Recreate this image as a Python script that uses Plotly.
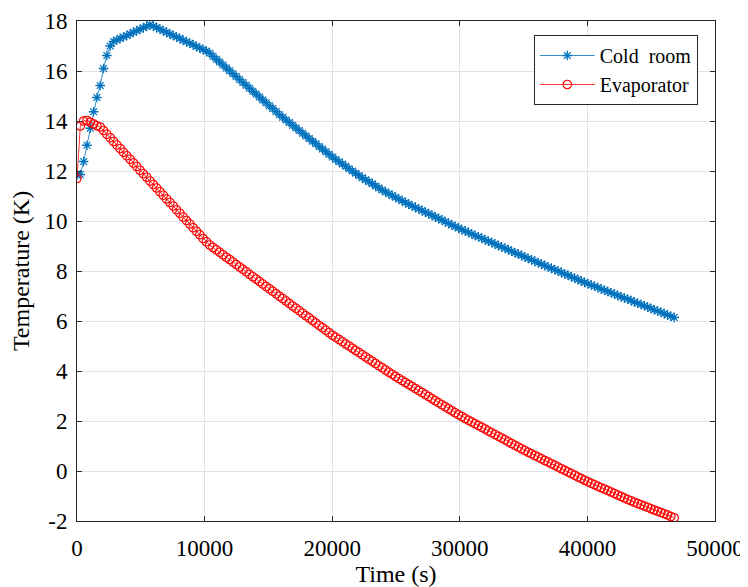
import plotly.graph_objects as go

time_s = [
    0, 260, 520, 780, 1040, 1300, 1560, 1820, 2080, 2340,
    2600, 2860, 3120, 3380, 3640, 3900, 4160, 4420, 4680, 4940,
    5200, 5460, 5720, 5980, 6240, 6500, 6760, 7020, 7280, 7540,
    7800, 8060, 8320, 8580, 8840, 9100, 9360, 9620, 9880, 10140,
    10400, 10660, 10920, 11180, 11440, 11700, 11960, 12220, 12480, 12740,
    13000, 13260, 13520, 13780, 14040, 14300, 14560, 14820, 15080, 15340,
    15600, 15860, 16120, 16380, 16640, 16900, 17160, 17420, 17680, 17940,
    18200, 18460, 18720, 18980, 19240, 19500, 19760, 20020, 20280, 20540,
    20800, 21060, 21320, 21580, 21840, 22100, 22360, 22620, 22880, 23140,
    23400, 23660, 23920, 24180, 24440, 24700, 24960, 25220, 25480, 25740,
    26000, 26260, 26520, 26780, 27040, 27300, 27560, 27820, 28080, 28340,
    28600, 28860, 29120, 29380, 29640, 29900, 30160, 30420, 30680, 30940,
    31200, 31460, 31720, 31980, 32240, 32500, 32760, 33020, 33280, 33540,
    33800, 34060, 34320, 34580, 34840, 35100, 35360, 35620, 35880, 36140,
    36400, 36660, 36920, 37180, 37440, 37700, 37960, 38220, 38480, 38740,
    39000, 39260, 39520, 39780, 40040, 40300, 40560, 40820, 41080, 41340,
    41600, 41860, 42120, 42380, 42640, 42900, 43160, 43420, 43680, 43940,
    44200, 44460, 44720, 44980, 45240, 45500, 45760, 46020, 46280, 46540,
    46800,
]

cold_room = [
    11.85, 11.86, 12.38, 13.03, 13.71, 14.37, 14.94, 15.42, 16.10, 16.62,
    17.00, 17.18, 17.24, 17.30, 17.36, 17.42, 17.48, 17.55, 17.61, 17.67,
    17.73, 17.79, 17.85, 17.80, 17.74, 17.67, 17.61, 17.55, 17.48, 17.42,
    17.36, 17.30, 17.23, 17.17, 17.11, 17.05, 16.98, 16.92, 16.86, 16.80,
    16.71, 16.59, 16.47, 16.36, 16.24, 16.12, 16.01, 15.89, 15.78, 15.66,
    15.54, 15.43, 15.31, 15.19, 15.08, 14.96, 14.84, 14.73, 14.61, 14.50,
    14.38, 14.26, 14.15, 14.04, 13.94, 13.83, 13.72, 13.62, 13.51, 13.40,
    13.30, 13.19, 13.09, 12.98, 12.88, 12.77, 12.67, 12.56, 12.46, 12.37,
    12.28, 12.19, 12.09, 12.00, 11.91, 11.82, 11.73, 11.65, 11.57, 11.49,
    11.40, 11.32, 11.24, 11.16, 11.09, 11.02, 10.95, 10.88, 10.81, 10.74,
    10.67, 10.61, 10.54, 10.48, 10.42, 10.35, 10.29, 10.23, 10.16, 10.10,
    10.04, 9.97, 9.91, 9.84, 9.78, 9.72, 9.65, 9.60, 9.54, 9.48,
    9.42, 9.37, 9.31, 9.25, 9.19, 9.14, 9.08, 9.02, 8.96, 8.91,
    8.85, 8.79, 8.73, 8.68, 8.62, 8.56, 8.50, 8.45, 8.39, 8.33,
    8.28, 8.22, 8.16, 8.11, 8.05, 8.00, 7.94, 7.88, 7.83, 7.77,
    7.71, 7.66, 7.60, 7.54, 7.49, 7.44, 7.39, 7.34, 7.28, 7.23,
    7.18, 7.13, 7.08, 7.02, 6.97, 6.92, 6.87, 6.82, 6.76, 6.71,
    6.66, 6.61, 6.56, 6.50, 6.45, 6.40, 6.35, 6.30, 6.24, 6.19,
    6.14,
]

evaporator = [
    11.70, 13.80, 14.00, 14.02, 13.95, 13.88, 13.81, 13.76, 13.62, 13.47,
    13.33, 13.18, 13.04, 12.90, 12.75, 12.61, 12.47, 12.32, 12.18, 12.03,
    11.89, 11.75, 11.60, 11.46, 11.32, 11.17, 11.03, 10.88, 10.74, 10.60,
    10.45, 10.31, 10.16, 10.02, 9.88, 9.73, 9.59, 9.45, 9.30, 9.17,
    9.04, 8.94, 8.85, 8.75, 8.65, 8.55, 8.46, 8.36, 8.26, 8.16,
    8.07, 7.97, 7.87, 7.77, 7.68, 7.58, 7.48, 7.38, 7.29, 7.19,
    7.09, 6.99, 6.90, 6.80, 6.70, 6.60, 6.51, 6.41, 6.31, 6.21,
    6.12, 6.02, 5.92, 5.82, 5.73, 5.63, 5.53, 5.43, 5.35, 5.26,
    5.17, 5.08, 5.00, 4.91, 4.82, 4.74, 4.65, 4.56, 4.47, 4.39,
    4.30, 4.21, 4.13, 4.04, 3.95, 3.87, 3.78, 3.70, 3.62, 3.54,
    3.46, 3.38, 3.30, 3.22, 3.14, 3.06, 2.98, 2.89, 2.81, 2.73,
    2.65, 2.57, 2.49, 2.41, 2.33, 2.25, 2.18, 2.10, 2.03, 1.96,
    1.89, 1.82, 1.75, 1.68, 1.60, 1.53, 1.46, 1.39, 1.32, 1.25,
    1.17, 1.10, 1.03, 0.96, 0.89, 0.82, 0.75, 0.69, 0.62, 0.56,
    0.49, 0.42, 0.36, 0.29, 0.23, 0.16, 0.09, 0.03, -0.04, -0.10,
    -0.17, -0.24, -0.30, -0.37, -0.43, -0.49, -0.55, -0.61, -0.67, -0.72,
    -0.78, -0.84, -0.90, -0.96, -1.02, -1.08, -1.14, -1.19, -1.25, -1.30,
    -1.35, -1.40, -1.45, -1.51, -1.56, -1.61, -1.66, -1.71, -1.76, -1.82,
    -1.87,
]

x_ticks = [0, 10000, 20000, 30000, 40000, 50000]
y_ticks = [-2, 0, 2, 4, 6, 8, 10, 12, 14, 16, 18]
y_tick_labels = ["-2", "0", "2", "4", "6", "8", "10", "12", "14", "16", "18"]

FONT = "Liberation Serif, Times New Roman, serif"
AXIS = "#262626"

fig = go.Figure()
fig.add_trace(go.Scatter(
    x=time_s, y=cold_room, mode="lines+markers", name="Cold\u00a0 room",
    line=dict(color="#0072BD", width=0.8),
    marker=dict(symbol="asterisk-open", size=8, color="#0072BD",
                line=dict(color="#0072BD", width=1.3)),
))
fig.add_trace(go.Scatter(
    x=time_s, y=evaporator, mode="lines+markers", name="Evaporator",
    line=dict(color="#FF0000", width=0.8),
    marker=dict(symbol="circle-open", size=8.5, color="#FF0000",
                line=dict(color="#FF0000", width=1.1)),
))

axis_common = dict(
    showline=True, linecolor=AXIS, linewidth=1, mirror="ticks",
    ticks="inside", ticklen=5, tickcolor=AXIS, tickwidth=1,
    showgrid=True, gridcolor="#e3e3e3", gridwidth=1, zeroline=False,
    tickfont=dict(family=FONT, size=23, color="#000000"),
    automargin=False,
)

fig.update_layout(
    width=740, height=579,
    margin=dict(l=69, r=33, t=13, b=66),
    paper_bgcolor="white", plot_bgcolor="white",
    font=dict(family=FONT, color="#000000"),
    showlegend=True,
    legend=dict(
        x=0.973, y=0.972, xanchor="right", yanchor="top",
        bgcolor="white", bordercolor=AXIS, borderwidth=1,
        font=dict(family=FONT, size=20, color="#000000"),
        tracegroupgap=0, itemwidth=55,
    ),
    xaxis=dict(
        range=[0, 50000], tickvals=x_ticks, ticktext=[str(v) for v in x_ticks],
        ticklabelstandoff=6,
        title=dict(text="Time (s)", font=dict(family=FONT, size=24), standoff=2),
        **axis_common,
    ),
    yaxis=dict(
        range=[-2, 18], tickvals=y_ticks, ticktext=y_tick_labels,
        ticklabelstandoff=4,
        title=dict(text="Temperature (K)", font=dict(family=FONT, size=24), standoff=8),
        **axis_common,
    ),
)

fig.write_html("out.html")
